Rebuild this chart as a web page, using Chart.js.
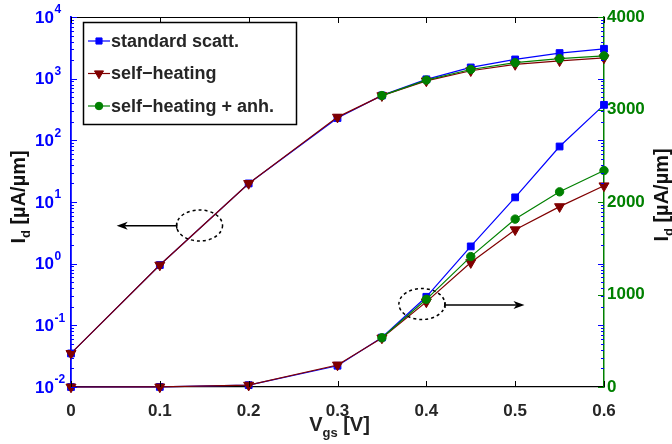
<!DOCTYPE html>
<html><head><meta charset="utf-8">
<script src="https://cdn.jsdelivr.net/npm/chart.js@4/dist/chart.umd.min.js"></script>
<style>html,body{margin:0;padding:0;background:#fff}#wrap{width:672px;height:444px}</style>
</head><body><div id="wrap"><canvas id="c" width="672" height="444"></canvas></div>
<script>
// ---- data ----
const vgs = [0, 0.1, 0.2, 0.3, 0.35, 0.4, 0.45, 0.5, 0.55, 0.6];
const standardScatt = [0.035, 0.95, 20, 230, 535, 975, 1520, 2050, 2600, 3050];
const selfHeating = [0.035, 0.95, 20, 238, 530, 920, 1345, 1700, 1950, 2175];
const selfHeatingAnh = [null, null, null, null, 532, 948, 1410, 1815, 2110, 2340];
const seriesNames = ['standard scatt.', 'self\u2212heating', 'self\u2212heating + anh.'];
const xTickValues = [0, 0.1, 0.2, 0.3, 0.4, 0.5, 0.6];
const logTickExps = [-2, -1, 0, 1, 2, 3, 4];
const linTickValues = [0, 1000, 2000, 3000, 4000];

// ---- styles ----
const BLUE = '#0000ff', RED = '#800000', GREEN = '#008000', DARK = '#262626';
const FONT = "'Liberation Sans', Arial, Helvetica, sans-serif";

// annotation anchors (data units)
const annot = {
  leftEllipse: {x: 0.1447, y: 4.16, axis: 'yL'},
  leftArrow: {x0: 0.119, x1: 0.0514, y: 4.13, axis: 'yL'},
  rightEllipse: {x: 0.395, y: 897, axis: 'yR'},
  rightArrow: {x0: 0.421, x1: 0.5105, y: 886, axis: 'yR'}
};

const seriesStyle = [
  {color: BLUE, style: 'rect', rot: 0, r: 4.8, order: 2},
  {color: RED, style: 'triangle', rot: 180, r: 5.8, order: 1},
  {color: GREEN, style: 'circle', rot: 0, r: 4.2, order: 0}
];
const seriesData = [standardScatt, selfHeating, selfHeatingAnh];

function mkDs(i, axis) {
  const s = seriesStyle[i];
  return {
    label: seriesNames[i],
    data: vgs.map((x, k) => ({x: x, y: seriesData[i][k]})),
    yAxisID: axis,
    borderColor: s.color, backgroundColor: s.color,
    borderWidth: 1.2,
    pointStyle: s.style, pointRotation: s.rot, pointRadius: s.r,
    pointBackgroundColor: s.color, pointBorderColor: s.color, pointBorderWidth: 1,
    order: s.order, clip: false, tension: 0, spanGaps: false
  };
}

function drawMarker(ctx, style, rot, x, y, r, color) {
  ctx.save();
  ctx.fillStyle = color; ctx.strokeStyle = color; ctx.lineWidth = 1;
  ctx.beginPath();
  if (style === 'rect') {
    const s = r * Math.SQRT1_2;
    ctx.rect(x - s, y - s, 2 * s, 2 * s);
  } else if (style === 'triangle') {
    let a = rot * Math.PI / 180;
    ctx.moveTo(x + Math.sin(a) * r, y - Math.cos(a) * r);
    a += 2 * Math.PI / 3;
    ctx.lineTo(x + Math.sin(a) * r, y - Math.cos(a) * r);
    a += 2 * Math.PI / 3;
    ctx.lineTo(x + Math.sin(a) * r, y - Math.cos(a) * r);
    ctx.closePath();
  } else {
    ctx.arc(x, y, r, 0, Math.PI * 2);
  }
  ctx.fill(); ctx.stroke();
  ctx.restore();
}

function arrowHead(ctx, x, y, dir) {
  ctx.beginPath();
  ctx.moveTo(x, y);
  ctx.lineTo(x - dir * 11, y - 4);
  ctx.lineTo(x - dir * 8, y);
  ctx.lineTo(x - dir * 11, y + 4);
  ctx.closePath();
  ctx.fill();
}

const decor = {
  id: 'decor',
  afterDraw(chart) {
    const ctx = chart.ctx;
    const a = chart.chartArea;
    const xs = chart.scales.x, yL = chart.scales.yL, yR = chart.scales.yR;
    ctx.save();
    // top border
    ctx.strokeStyle = '#000'; ctx.lineWidth = 1.2;
    ctx.beginPath(); ctx.moveTo(a.left, a.top + 0.5); ctx.lineTo(a.right, a.top + 0.5); ctx.stroke();

    // log ticks (both sides, blue)
    ctx.strokeStyle = BLUE; ctx.lineWidth = 1;
    logTickExps.forEach((e, i) => {
      const y = Math.round(yL.getPixelForValue(Math.pow(10, e))) + 0.5;
      ctx.beginPath();
      ctx.moveTo(a.left, y); ctx.lineTo(a.left + 6, y);
      ctx.moveTo(a.right, y); ctx.lineTo(a.right - 6, y);
      ctx.stroke();
      if (i < logTickExps.length - 1) {
        for (let m = 2; m <= 9; m++) {
          const ym = Math.round(yL.getPixelForValue(m * Math.pow(10, e))) + 0.5;
          ctx.beginPath();
          ctx.moveTo(a.left, ym); ctx.lineTo(a.left + 3, ym);
          ctx.moveTo(a.right, ym); ctx.lineTo(a.right - 3, ym);
          ctx.stroke();
        }
      }
    });
    // linear right ticks (green)
    ctx.strokeStyle = GREEN;
    linTickValues.forEach(v => {
      const y = Math.round(yR.getPixelForValue(v)) + 0.5;
      ctx.beginPath(); ctx.moveTo(a.right, y); ctx.lineTo(a.right - 6, y); ctx.stroke();
    });
    // x ticks (bottom and top)
    ctx.strokeStyle = '#000';
    xTickValues.forEach(v => {
      const x = Math.round(xs.getPixelForValue(v)) + 0.5;
      ctx.beginPath();
      ctx.moveTo(x, a.bottom); ctx.lineTo(x, a.bottom - 6);
      ctx.moveTo(x, a.top); ctx.lineTo(x, a.top + 6);
      ctx.stroke();
    });

    // left log tick labels
    ctx.fillStyle = BLUE;
    logTickExps.forEach(e => {
      const y = yL.getPixelForValue(Math.pow(10, e));
      ctx.font = 'bold 17px ' + FONT;
      ctx.textAlign = 'left'; ctx.textBaseline = 'middle';
      ctx.fillText('10', 35, y + 1);
      const w = ctx.measureText('10').width;
      ctx.font = 'bold 12px ' + FONT;
      ctx.fillText(String(e), 35 + w + 0.5, y - 7);
    });

    // annotations
    ctx.strokeStyle = '#000'; ctx.fillStyle = '#000'; ctx.lineWidth = 1.5;
    const el = (p) => {
      const cx = xs.getPixelForValue(p.x), cy = chart.scales[p.axis].getPixelForValue(p.y);
      ctx.save(); ctx.setLineDash([3, 3]);
      ctx.beginPath(); ctx.ellipse(cx, cy, 23, 15.5, 0, 0, Math.PI * 2); ctx.stroke();
      ctx.restore();
    };
    el(annot.leftEllipse); el(annot.rightEllipse);
    [annot.leftArrow, annot.rightArrow].forEach((p) => {
      const x0 = xs.getPixelForValue(p.x0), x1 = xs.getPixelForValue(p.x1);
      const y = chart.scales[p.axis].getPixelForValue(p.y);
      const dir = x1 > x0 ? 1 : -1;
      ctx.beginPath(); ctx.moveTo(x0, y); ctx.lineTo(x1 - dir * 8, y); ctx.stroke();
      ctx.beginPath(); ctx.moveTo(x0, y - 3); ctx.lineTo(x0, y + 3); ctx.stroke();
      arrowHead(ctx, x1, y, dir);
    });

    // legend
    const lx = a.left + 12, ly = a.top + 5, lw = 213, lh = 102;
    ctx.fillStyle = '#fff'; ctx.fillRect(lx, ly, lw, lh);
    ctx.strokeStyle = '#000'; ctx.lineWidth = 1.5;
    ctx.strokeRect(lx + 0.5, ly + 0.5, lw, lh);
    chart.data.datasets.slice(0, 3).forEach((ds, i) => {
      const s = seriesStyle[i];
      const ry = ly + 19 + i * 32.5;
      ctx.strokeStyle = s.color; ctx.lineWidth = 1.2;
      ctx.beginPath(); ctx.moveTo(lx + 5, ry); ctx.lineTo(lx + 27, ry); ctx.stroke();
      drawMarker(ctx, s.style, s.rot, lx + 16, ry, s.r * 0.9, s.color);
      ctx.fillStyle = DARK; ctx.font = 'bold 18px ' + FONT;
      ctx.textAlign = 'left'; ctx.textBaseline = 'middle';
      ctx.fillText(ds.label, lx + 28, ry + 1);
    });

    // axis titles
    const titleY = (cx, cy, color) => {
      ctx.save();
      ctx.translate(cx, cy); ctx.rotate(-Math.PI / 2);
      ctx.fillStyle = color; ctx.textBaseline = 'alphabetic'; ctx.textAlign = 'left';
      ctx.font = 'bold 20px ' + FONT; const w1 = ctx.measureText('I').width;
      const rest = ' [\u00b5A/\u00b5m]'; const w3 = ctx.measureText(rest).width;
      ctx.font = 'bold 13px ' + FONT; const w2 = ctx.measureText('d').width;
      const tot = w1 + w2 + w3; let x = -tot / 2;
      ctx.font = 'bold 20px ' + FONT; ctx.fillText('I', x, 0); x += w1;
      ctx.font = 'bold 13px ' + FONT; ctx.fillText('d', x, 5); x += w2;
      ctx.font = 'bold 20px ' + FONT; ctx.fillText(rest, x, 0);
      ctx.restore();
    };
    titleY(25, 197, '#111');
    titleY(668, 195, '#111');
    // x title
    ctx.fillStyle = '#222'; ctx.textBaseline = 'alphabetic'; ctx.textAlign = 'left';
    ctx.font = 'bold 20px ' + FONT; const wv = ctx.measureText('V').width;
    ctx.font = 'bold 13px ' + FONT; const wg = ctx.measureText('gs').width;
    ctx.font = 'bold 20px ' + FONT; const wr = ctx.measureText(' [V]').width;
    let tx = (a.left + a.right) / 2 - (wv + wg + wr) / 2 + 2;
    ctx.fillText('V', tx, 431); tx += wv;
    ctx.font = 'bold 13px ' + FONT; ctx.fillText('gs', tx, 437); tx += wg;
    ctx.font = 'bold 20px ' + FONT; ctx.fillText(' [V]', tx, 431);
    ctx.restore();
  }
};

new Chart(document.getElementById('c'), {
  type: 'line',
  data: {
    datasets: [mkDs(0, 'yL'), mkDs(1, 'yL'), mkDs(2, 'yL'), mkDs(0, 'yR'), mkDs(1, 'yR'), mkDs(2, 'yR')]
  },
  options: {
    responsive: false, animation: false, devicePixelRatio: 1,
    layout: {padding: {top: 17, left: 0, right: 0, bottom: 0}},
    plugins: {legend: {display: false}, tooltip: {enabled: false}},
    scales: {
      x: {
        type: 'linear', position: 'bottom', min: 0, max: 0.6,
        afterFit(s) { s.height = 57; },
        grid: {display: false, drawTicks: false},
        border: {display: true, color: '#000', width: 1.3},
        afterBuildTicks(s) { s.ticks = xTickValues.map(v => ({value: v})); },
        ticks: {
          color: DARK, padding: 14, maxRotation: 0, autoSkip: false,
          font: {family: FONT, size: 17, weight: 'bold'},
          callback: v => String(+(+v).toFixed(1))
        }
      },
      yL: {
        type: 'logarithmic', position: 'left', min: 0.01, max: 10000,
        afterFit(s) { s.width = 71; },
        grid: {display: false, drawTicks: false},
        border: {display: true, color: BLUE, width: 1.8},
        ticks: {callback: () => '', padding: 0}
      },
      yR: {
        type: 'linear', position: 'right', min: 0, max: 4000,
        afterFit(s) { s.width = 68; },
        grid: {display: false, drawTicks: false},
        border: {display: true, color: GREEN, width: 1.5},
        afterBuildTicks(s) { s.ticks = linTickValues.map(v => ({value: v})); },
        ticks: {
          color: GREEN, padding: 3,
          font: {family: FONT, size: 17, weight: 'bold'},
          callback: v => String(v)
        }
      }
    }
  },
  plugins: [decor]
});
</script>
</body></html>
